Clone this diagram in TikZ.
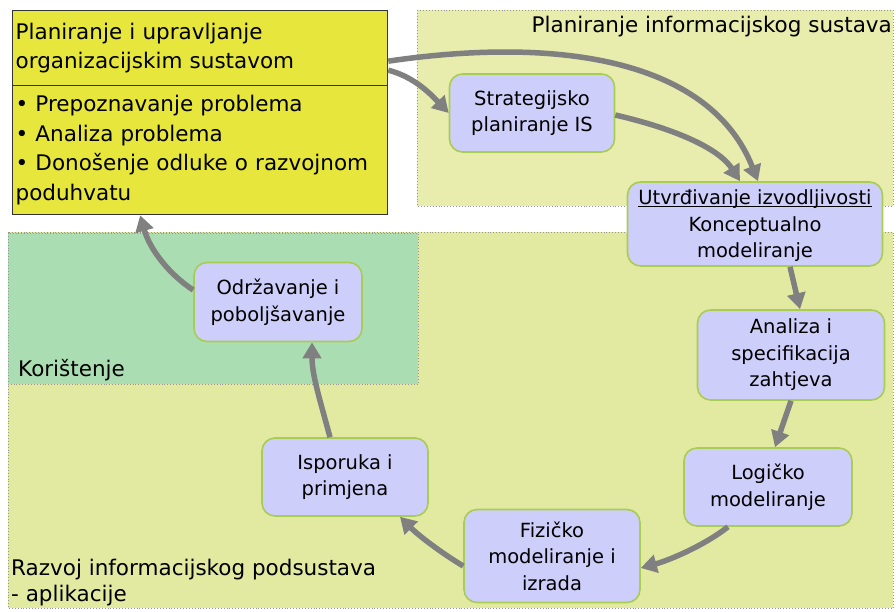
\documentclass[tikz,border=0pt]{standalone}
\usepackage{fontspec}
\setmainfont{DejaVu Sans}
\usetikzlibrary{arrows.meta}

\definecolor{orgyellow}{RGB}{230,230,60}
\definecolor{planfill}{RGB}{232,236,172}
\definecolor{devfill}{RGB}{226,234,162}
\definecolor{usefill}{RGB}{170,222,178}
\definecolor{stepfill}{RGB}{206,206,250}
\definecolor{stepline}{RGB}{168,204,84}
\definecolor{flowgray}{RGB}{128,128,128}
\definecolor{zoneline}{RGB}{150,150,150}

\tikzset{
  zone/.style={draw=zoneline, dotted, line width=0.9pt},
  zonelabel/.style={font=\fontsize{21.5}{26}\selectfont, inner sep=0pt},
  stepbox/.style={draw=stepline, line width=1.6pt, fill=stepfill, rounded corners=13pt,
    align=center, inner sep=2pt, font=\fontsize{19.5}{26.5}\selectfont},
  orgpart/.style={draw=black!80, line width=1.3pt, fill=orgyellow, align=left,
    text width=369pt, inner xsep=3pt, inner ysep=2pt,
    font=\fontsize{21.5}{29.5}\selectfont, anchor=north west},
  flow/.style={draw=flowgray, line width=5.5pt, -{Triangle[width=18pt,length=16pt]}}
}

\begin{document}
\begin{tikzpicture}[x=1pt,y=-1pt]
\useasboundingbox (0,0) rectangle (896,611);
\fill[white] (0,0) rectangle (896,611);

% zones
\filldraw[zone, fill=planfill] (417,10) rectangle (893,206);
\filldraw[zone, fill=devfill] (8,232) rectangle (893,608);
\filldraw[zone, fill=usefill] (8,233) rectangle (418,384);

\node[zonelabel, anchor=base east] (planlbl) at (892,32) {Planiranje informacijskog sustava};
\node[zonelabel, anchor=base west] (uselbl) at (18,376) {Korištenje};
\node[zonelabel, anchor=base west] (devlbl1) at (11,575) {Razvoj informacijskog podsustava};
\node[zonelabel, anchor=base west] (devlbl2) at (11,601) {- aplikacije};

% organisational system box
\node[orgpart, minimum height=75pt] (orghead) at (12,10)
  {\rule{0pt}{4pt}Planiranje i upravljanje\\organizacijskim sustavom};
\node[orgpart, minimum height=129pt] (orgbody) at (12,85)
  {• Prepoznavanje problema\\• Analiza problema\\• Donošenje odluke o razvojnom\\poduhvatu};

% process steps
\node[stepbox, minimum width=165pt, minimum height=78pt] (strat) at (532,113)
  {Strategijsko\\planiranje IS};
\node[stepbox, minimum width=255pt, minimum height=84pt] (utv) at (755,224)
  {\underline{\smash{Utvrđivanje izvodljivosti}}\strut\\Konceptualno\\modeliranje};
\node[stepbox, minimum width=187pt, minimum height=90pt] (anal) at (791,355)
  {Analiza i\\specifikacija\\zahtjeva};
\node[stepbox, minimum width=168pt, minimum height=78pt] (logm) at (768,487)
  {Logičko\\modeliranje};
\node[stepbox, minimum width=176pt, minimum height=93pt] (fiz) at (552,556)
  {Fizičko\\modeliranje i\\izrada};
\node[stepbox, minimum width=166pt, minimum height=78pt] (isp) at (345,477)
  {Isporuka i\\primjena};
\node[stepbox, minimum width=168pt, minimum height=79pt] (odr) at (278,302)
  {Održavanje i\\poboljšavanje};

% flows
\draw[flow] ([yshift=-22pt]orghead.east) .. controls (410,76) and (425,88) .. (strat.west);
\draw[flow] ([yshift=-13pt]orghead.east) .. controls (560,36) and (710,60) .. ([xshift=3pt]utv.north);
\draw[flow] ([yshift=-2pt]strat.east) .. controls (680,130) and (720,150) .. ([xshift=-15pt]utv.north);
\draw[flow] ([xshift=35pt]utv.south) -- ([xshift=9pt]anal.north);
\draw[flow] (anal.south) -- ([xshift=7pt]logm.north);
\draw[flow] ([xshift=-40pt]logm.south) .. controls (705,545) and (670,560) .. ([yshift=-12pt]fiz.east);
\draw[flow] ([yshift=-10pt]fiz.west) .. controls (440,552) and (418,535) .. ([xshift=55pt]isp.south);
\draw[flow] ([xshift=-15pt]isp.north) .. controls (320,400) and (312,375) .. ([xshift=34pt]odr.south);
\draw[flow] ([yshift=12pt]odr.west) .. controls (170,275) and (150,250) .. ([xshift=-60pt]orgbody.south);
\end{tikzpicture}
\end{document}
